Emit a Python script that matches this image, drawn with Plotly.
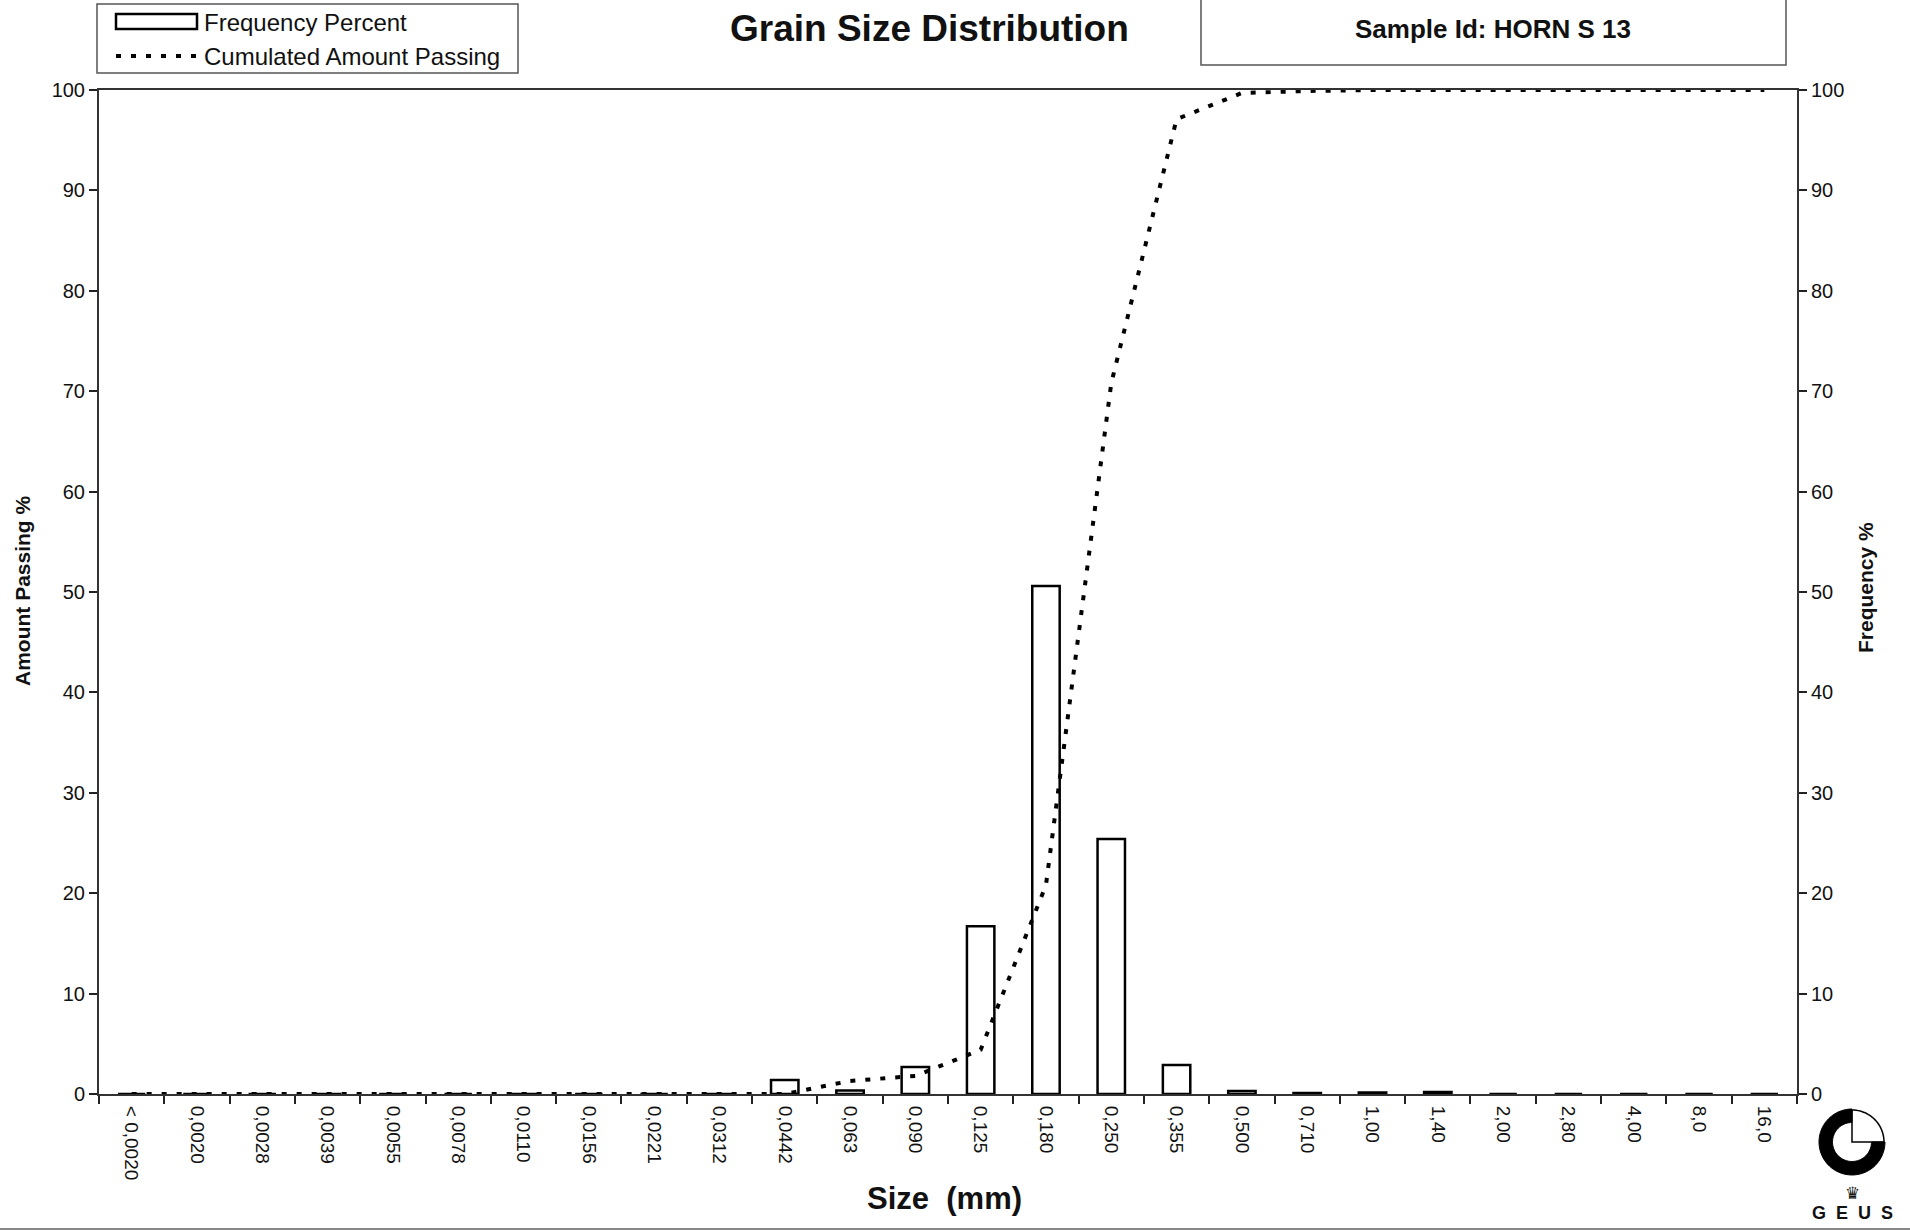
import numpy as np
import plotly.graph_objects as go

# Sieve classes (mm), labelled with decimal commas
size_labels = ["< 0,0020", "0,0020", "0,0028", "0,0039", "0,0055", "0,0078",
               "0,0110", "0,0156", "0,0221", "0,0312", "0,0442", "0,063",
               "0,090", "0,125", "0,180", "0,250", "0,355", "0,500", "0,710",
               "1,00", "1,40", "2,00", "2,80", "4,00", "8,0", "16,0"]

# Frequency percent per class
frequency_pct = [0, 0, 0, 0, 0, 0, 0, 0, 0, 0, 1.4, 0.35, 2.7, 16.7, 50.6,
                 25.4, 2.9, 0.3, 0.1, 0.15, 0.2, 0, 0, 0, 0, 0]

# Cumulated amount passing per class
cum_passing = [0, 0, 0, 0, 0, 0, 0, 0, 0, 0, 0.0, 1.3, 1.8, 4.4, 20.8,
               70.8, 97.1, 99.7, 99.9, 100, 100, 100, 100, 100, 100, 100]

y_ticks = list(range(0, 101, 10))

FONT = "Liberation Sans, Arial, sans-serif"
DOT = "5px,10px"

# plot-area geometry in pixels
FIG_W, FIG_H = 1910, 1232
L, R, T, B = 99, 1797, 90, 1094
W, H = R - L, B - T


def px(x):
    return (x - L) / W


def py(y):
    return (B - y) / H


fig = go.Figure()

fig.add_trace(go.Bar(
    x=size_labels, y=frequency_pct, yaxis="y2", name="Frequency Percent",
    marker=dict(color="rgba(255,255,255,0)", line=dict(color="black", width=2.5)),
))
fig.add_trace(go.Scatter(
    x=size_labels, y=cum_passing, yaxis="y", mode="lines",
    name="Cumulated Amount Passing",
    line=dict(color="black", width=4, dash=DOT),
))

axis_common = dict(
    range=[0, 100], tickvals=y_ticks, ticks="outside", ticklen=8,
    tickcolor="#222", tickwidth=1.5, showgrid=False, zeroline=False,
    showline=True, linecolor="#333", linewidth=2,
    tickfont=dict(family=FONT, size=20, color="#111"),
)

fig.update_layout(
    width=FIG_W, height=FIG_H,
    margin=dict(l=L, r=FIG_W - R, t=T, b=FIG_H - B),
    paper_bgcolor="white", plot_bgcolor="white",
    showlegend=False, bargap=0.58,
    font=dict(family=FONT, color="#111"),
    xaxis=dict(
        type="category", tickson="boundaries", ticks="outside", ticklen=8,
        tickcolor="#222", tickwidth=1.5, tickangle=90, ticklabelstandoff=6,
        showline=True, linecolor="#333", linewidth=2, mirror=True,
        showgrid=False, tickfont=dict(family=FONT, size=19, color="#111"),
    ),
    yaxis=dict(side="left", **axis_common),
    yaxis2=dict(side="right", overlaying="y", **axis_common),
)

shapes = []
ann = []

# legend frame and keys
shapes.append(dict(type="rect", xref="paper", yref="paper",
                   x0=px(97), x1=px(518), y0=py(73), y1=py(4),
                   line=dict(color="#555", width=1.5)))
shapes.append(dict(type="rect", xref="paper", yref="paper",
                   x0=px(116), x1=px(197), y0=py(29), y1=py(14),
                   line=dict(color="black", width=2.5)))
shapes.append(dict(type="line", xref="paper", yref="paper",
                   x0=px(116), x1=px(197), y0=py(56), y1=py(56),
                   line=dict(color="black", width=4, dash=DOT)))
ann.append(dict(text="Frequency Percent", x=px(202), y=py(22),
                xanchor="left", yanchor="middle",
                font=dict(family=FONT, size=24, color="#111")))
ann.append(dict(text="Cumulated Amount Passing", x=px(202), y=py(56),
                xanchor="left", yanchor="middle",
                font=dict(family=FONT, size=24, color="#111")))

# title and sample id box
ann.append(dict(text="<b>Grain Size Distribution</b>", x=px(929), y=py(28),
                xanchor="center", yanchor="middle",
                font=dict(family=FONT, size=37, color="#111")))
shapes.append(dict(type="rect", xref="paper", yref="paper",
                   x0=px(1201), x1=px(1786), y0=py(65), y1=py(-5),
                   line=dict(color="#555", width=1.5)))
ann.append(dict(text="<b>Sample Id: HORN S 13</b>", x=px(1493), y=py(29),
                xanchor="center", yanchor="middle",
                font=dict(family=FONT, size=26, color="#111")))

# axis titles
ann.append(dict(text="<b>Amount Passing %</b>", x=px(22), y=py(591),
                textangle=-90, xanchor="center", yanchor="middle",
                font=dict(family=FONT, size=21, color="#111")))
ann.append(dict(text="<b>Frequency %</b>", x=px(1865), y=py(588),
                textangle=-90, xanchor="center", yanchor="middle",
                font=dict(family=FONT, size=21, color="#111")))
ann.append(dict(text="<b>Size\u00a0\u00a0(mm)</b>", x=px(944), y=py(1198),
                xanchor="center", yanchor="middle",
                font=dict(family=FONT, size=31, color="#111")))

# GEUS emblem: three-quarter black ring with outlined open quadrant
cx, cy, ro, ri = 1852, 1142, 33, 19.5
t_black = np.radians(np.linspace(90, 360, 60))
t_open = np.radians(np.linspace(0, 90, 25))


def ppt(dx, dy):
    return f"{px(cx + dx):.5f},{py(cy - dy):.5f}"


outer = [ppt(ro * np.cos(t), ro * np.sin(t)) for t in t_black]
inner = [ppt(ri * np.cos(t), ri * np.sin(t)) for t in t_black[::-1]]
ring_path = "M" + " L".join(outer + inner) + " Z"
shapes.append(dict(type="path", xref="paper", yref="paper", path=ring_path,
                   fillcolor="black", line=dict(color="black", width=1)))
arc = [ppt((ro - 1) * np.cos(t), (ro - 1) * np.sin(t)) for t in t_open]
shapes.append(dict(type="path", xref="paper", yref="paper",
                   path="M" + " L".join(arc),
                   line=dict(color="black", width=1.5)))
wedge = "M" + ppt(0, ro - 1) + " L" + ppt(0, 0) + " L" + ppt(ro - 1, 0)
shapes.append(dict(type="path", xref="paper", yref="paper", path=wedge,
                   line=dict(color="black", width=1.5)))
ann.append(dict(text="\u265b", x=px(1852), y=py(1193),
                xanchor="center", yanchor="middle",
                font=dict(family="DejaVu Sans", size=17, color="#111")))
ann.append(dict(text="<b>G\u00a0\u00a0E\u00a0\u00a0U\u00a0\u00a0S</b>",
                x=px(1852), y=py(1213), xanchor="center", yanchor="middle",
                font=dict(family=FONT, size=18, color="#111")))

# bottom page rule
shapes.append(dict(type="line", xref="paper", yref="paper",
                   x0=px(0), x1=px(FIG_W), y0=py(1229), y1=py(1229),
                   line=dict(color="#888", width=2)))

for a in ann:
    a.update(xref="paper", yref="paper", showarrow=False)

fig.update_layout(shapes=shapes, annotations=ann)

fig.write_html("out.html")
